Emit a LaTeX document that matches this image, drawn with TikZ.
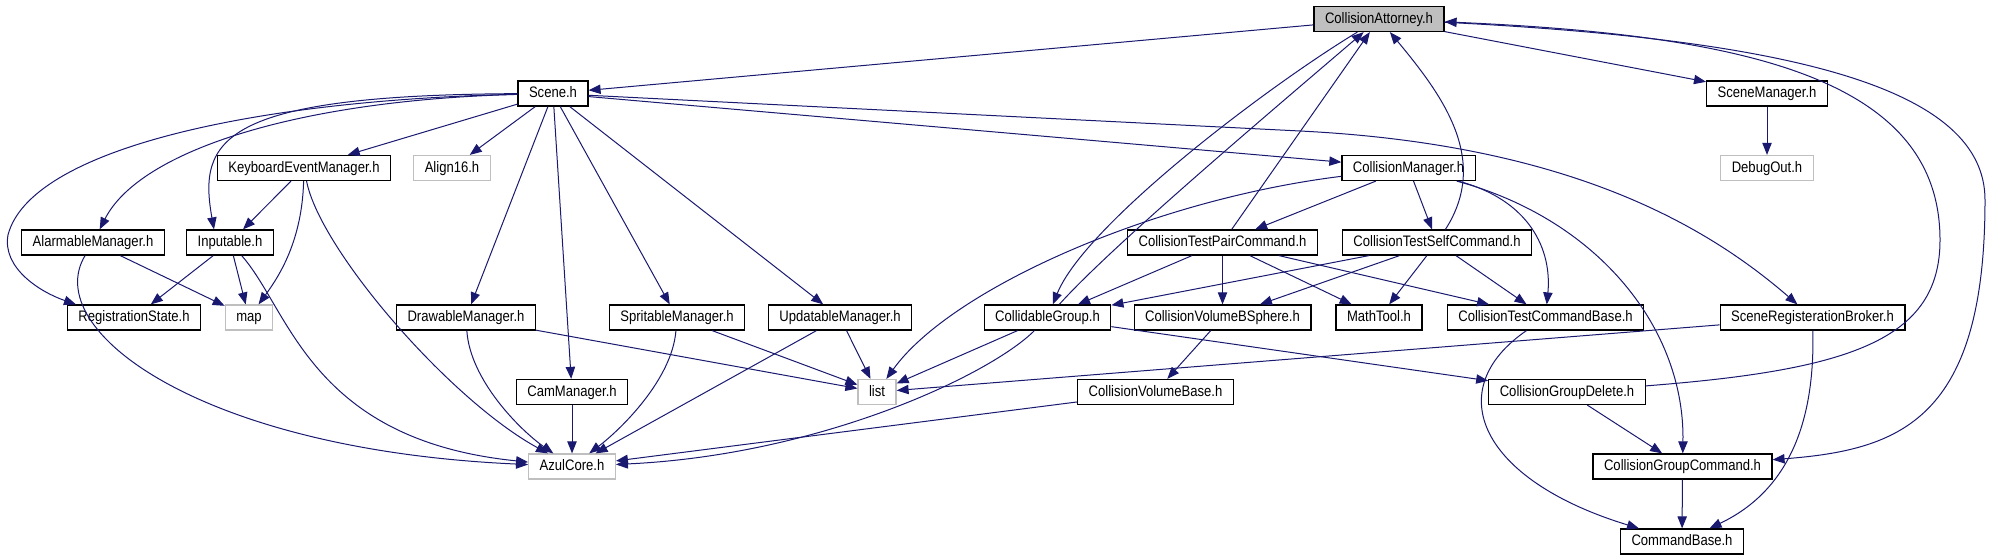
\documentclass[tikz,border=0pt]{standalone}
\usepackage{fontspec}
\setmainfont{Liberation Sans}[FakeStretch=0.86]
\usepackage{tikz}
\usetikzlibrary{arrows.meta, calc}
\definecolor{depblue}{RGB}{25,25,112}

\begin{document}
\begin{tikzpicture}[x=0.75pt, y=-0.75pt,
    every node/.style={rectangle, draw, line width=0.9pt, minimum height=18.75pt, inner xsep=8.25pt, inner ysep=0pt,
        text height=8.6pt, text depth=2.4pt, font=\fontsize{11.4}{13}\selectfont},
    ext/.style={draw=black!25},
    root/.style={fill=black!25},
    dep/.style={draw=depblue, line width=0.75pt, -{Triangle[length=9pt, width=7pt]}}]
    \useasboundingbox (0,0) rectangle (1995,560);

    \node (attorney) [root] at (1379,19) {CollisionAttorney.h};
    \node (scene) at (553,93.5) {Scene.h};
    \node (scenemgr) at (1767,93.5) {SceneManager.h};
    \node (debugout) [ext] at (1767,168) {DebugOut.h};
    \node (keyboard) at (304,168) {KeyboardEventManager.h};
    \node (align) [ext] at (452,168) {Align16.h};
    \node (collmgr) at (1408.5,168) {CollisionManager.h};
    \node (alarm) at (93,242.5) {AlarmableManager.h};
    \node (input) at (230,242.5) {Inputable.h};
    \node (testpair) at (1222.5,242.5) {CollisionTestPairCommand.h};
    \node (testself) at (1437,242.5) {CollisionTestSelfCommand.h};
    \node (regstate) at (134,317.5) {RegistrationState.h};
    \node (map) [ext] at (249,317.5) {map};
    \node (drawable) at (466,317.5) {DrawableManager.h};
    \node (spritable) at (677,317.5) {SpritableManager.h};
    \node (updatable) at (840,317.5) {UpdatableManager.h};
    \node (collgroup) at (1047.5,317.5) {CollidableGroup.h};
    \node (bsphere) at (1222.5,317.5) {CollisionVolumeBSphere.h};
    \node (mathtool) at (1379,317.5) {MathTool.h};
    \node (testbase) at (1545.5,317.5) {CollisionTestCommandBase.h};
    \node (broker) at (1812.5,317.5) {SceneRegisterationBroker.h};
    \node (cam) at (572,392) {CamManager.h};
    \node (list) [ext] at (877,392) {list};
    \node (volbase) at (1155.5,392) {CollisionVolumeBase.h};
    \node (groupdel) at (1567,392) {CollisionGroupDelete.h};
    \node (azul) [ext] at (572,466.5) {AzulCore.h};
    \node (groupcmd) at (1682.5,466.5) {CollisionGroupCommand.h};
    \node (command) at (1682,541.5) {CommandBase.h};

    \draw[dep] (attorney) -- (scene);
    \draw[dep] (attorney) -- (scenemgr);
    \draw[dep] (attorney) .. controls (1265,88) and (1085,225) .. (collgroup);
    \draw[dep] (attorney) .. controls (1800,40) and (1985,90) .. (1985,200) .. controls (1985,420) and (1900,450) .. (groupcmd);

    \draw[dep] (scene) -- (keyboard);
    \draw[dep] (scene) -- (align);
    \draw[dep] (scene) .. controls (300,100) and (140,150) .. (alarm);
    \draw[dep] (scene) .. controls (220,95) and (198,140) .. ($(input.north)+(-16,0)$);
    \draw[dep] (scene) .. controls (250,100) and (30,150) .. (8,235) .. controls (2,268) and (40,292) .. ($(regstate.north)+(-58,0)$);
    \draw[dep] (scene) -- (drawable);
    \draw[dep] (scene) -- (cam);
    \draw[dep] (scene) -- (spritable);
    \draw[dep] (scene) -- (updatable);
    \draw[dep] (scene) -- (collmgr);
    \draw[dep] (scene) -- (1300,131) .. controls (1560,144) and (1700,220) .. (broker);
    \draw[dep] (scenemgr) -- (debugout);

    \draw[dep] (keyboard) -- (input);
    \draw[dep] (keyboard) .. controls (302,240) and (280,275) .. (map);
    \draw[dep] (keyboard) .. controls (320,250) and (450,400) .. (azul);
    \draw[dep] (alarm) -- (map);
    \draw[dep] (alarm) .. controls (40,330) and (200,450) .. (azul);
    \draw[dep] (input) -- (regstate);
    \draw[dep] (input) -- (map);
    \draw[dep] (input) .. controls (290,310) and (310,440) .. (azul);

    \draw[dep] (drawable) .. controls (470,380) and (520,430) .. (azul);
    \draw[dep] (drawable) -- (list);
    \draw[dep] (cam) -- (azul);
    \draw[dep] (spritable) .. controls (672,380) and (620,430) .. (azul);
    \draw[dep] (spritable) -- (list);
    \draw[dep] (updatable) -- (azul);
    \draw[dep] (updatable) -- (list);

    \draw[dep] (collmgr) .. controls (1150,200) and (950,290) .. (list);
    \draw[dep] (collmgr) -- (testpair);
    \draw[dep] (collmgr) -- (testself);
    \draw[dep] (collmgr) .. controls (1530,200) and (1552,250) .. (testbase);
    \draw[dep] (collmgr) .. controls (1600,220) and (1685,330) .. (groupcmd);

    \draw[dep] (testpair) -- (attorney);
    \draw[dep] (testpair) -- (collgroup);
    \draw[dep] (testpair) -- (bsphere);
    \draw[dep] (testpair) -- (mathtool);
    \draw[dep] (testpair) -- (testbase);
    \draw[dep] (testself) .. controls (1490,160) and (1443,96) .. (attorney);
    \draw[dep] (testself) -- (collgroup);
    \draw[dep] (testself) -- (bsphere);
    \draw[dep] (testself) -- (mathtool);
    \draw[dep] (testself) -- (testbase);

    \draw[dep] (collgroup) .. controls (1110,248) and (1255,125) .. (attorney);
    \draw[dep] (collgroup) -- (list);
    \draw[dep] (collgroup) .. controls (990,375) and (820,455) .. (azul);
    \draw[dep] (collgroup) -- (groupdel);
    \draw[dep] (bsphere) -- (volbase);
    \draw[dep] (volbase) -- (azul);
    \draw[dep] (testbase) .. controls (1440,390) and (1480,480) .. (command);
    \draw[dep] (broker) -- (list);
    \draw[dep] (broker) .. controls (1815,420) and (1790,490) .. (command);
    \draw[dep] (groupdel) -- (groupcmd);
    \draw[dep] (groupdel) .. controls (1850,370) and (1940,340) .. (1940,240) .. controls (1940,80) and (1750,35) .. (attorney);
    \draw[dep] (groupcmd) -- (command);
\end{tikzpicture}
\end{document}
